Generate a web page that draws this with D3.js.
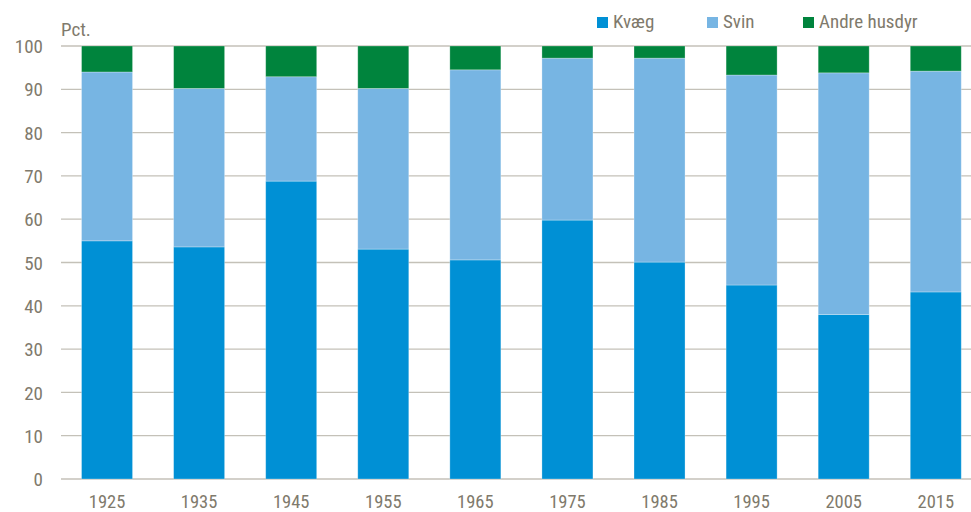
<!DOCTYPE html>
<html>
<head>
<meta charset="utf-8">
<script src="https://cdn.jsdelivr.net/npm/d3@7"></script>
<style>
  html, body { margin: 0; padding: 0; background: #fff; }
  svg { display: block; }
  text { font-family: "Liberation Sans Narrow", "Arial Narrow", "Roboto Condensed", Roboto, sans-serif; }
</style>
</head>
<body>
<svg id="chart" width="971" height="512"></svg>
<script>
const years = ["1925", "1935", "1945", "1955", "1965", "1975", "1985", "1995", "2005", "2015"];
const kvaeg = [55.0, 53.6, 68.8, 53.1, 50.6, 59.8, 50.1, 44.8, 38.0, 43.2];
const svin = [39.0, 36.6, 24.1, 37.1, 43.9, 37.4, 47.1, 48.5, 55.8, 51.0];
const andre = [6.0, 9.8, 7.1, 9.8, 5.5, 2.8, 2.8, 6.7, 6.2, 5.8];
const seriesNames = ["Kvæg", "Svin", "Andre husdyr"];
const seriesColors = ["#0090d5", "#77b5e3", "#00843d"];
const yTicks = [0, 10, 20, 30, 40, 50, 60, 70, 80, 90, 100];

const svg = d3.select("#chart");
const textColor = "#7f7a6c";
const gridColor = "#c4c1b8";

const x0 = 61, yTop = 46, yBottom = 479;
const step = 92.08;
const x = d3.scaleBand().domain(years).range([x0, x0 + step * years.length])
  .paddingInner(0.446).paddingOuter(0.223);
const y = d3.scaleLinear().domain([0, 100]).range([yBottom, yTop]);

// gridlines
svg.append("g").selectAll("line").data(yTicks).join("line")
  .attr("x1", x0).attr("x2", 971)
  .attr("y1", d => y(d)).attr("y2", d => y(d))
  .attr("stroke", gridColor).attr("stroke-width", 1.3);

// y axis labels
const yAxis = d3.axisLeft(y).tickValues(yTicks).tickSize(0).tickPadding(0);
const gy = svg.append("g").attr("transform", `translate(${x0 - 18},0)`).call(yAxis);
gy.select(".domain").remove();
gy.selectAll("text").attr("fill", textColor).style("font-size", "19px").attr("dy", "0.35em");

// x axis labels
const xAxis = d3.axisBottom(x).tickSize(0).tickPadding(0);
const gx = svg.append("g").attr("transform", `translate(0,${yBottom + 29})`).call(xAxis);
gx.select(".domain").remove();
gx.selectAll("text").attr("fill", textColor).style("font-size", "18.5px").attr("dy", "0");

// stacked data
const rows = years.map((yr, i) => ({ year: yr, s0: kvaeg[i], s1: svin[i], s2: andre[i] }));
const stack = d3.stack().keys(["s0", "s1", "s2"]);
const stacked = stack(rows);

svg.append("g").selectAll("g").data(stacked).join("g")
  .attr("fill", (d, i) => seriesColors[i])
  .selectAll("rect").data(d => d).join("rect")
  .attr("x", d => x(d.data.year))
  .attr("width", x.bandwidth())
  .attr("y", d => y(Math.min(100, d[1])))
  .attr("height", d => y(d[0]) - y(Math.min(100, d[1])))
  .attr("stroke", "#ffffff").attr("stroke-opacity", 0.35).attr("stroke-width", 0.8);

// "Pct." label
svg.append("text").attr("x", x0).attr("y", 36).attr("fill", textColor)
  .style("font-size", "19px").text("Pct.");

// legend
const legendX = [597, 707, 803];
const lg = svg.append("g").selectAll("g").data(seriesNames).join("g")
  .attr("transform", (d, i) => `translate(${legendX[i]},17)`);
lg.append("rect").attr("width", 11).attr("height", 11).attr("fill", (d, i) => seriesColors[i]);
lg.append("text").attr("x", 16).attr("y", 11).attr("fill", textColor)
  .style("font-size", "19px").text(d => d);
</script>
</body>
</html>
